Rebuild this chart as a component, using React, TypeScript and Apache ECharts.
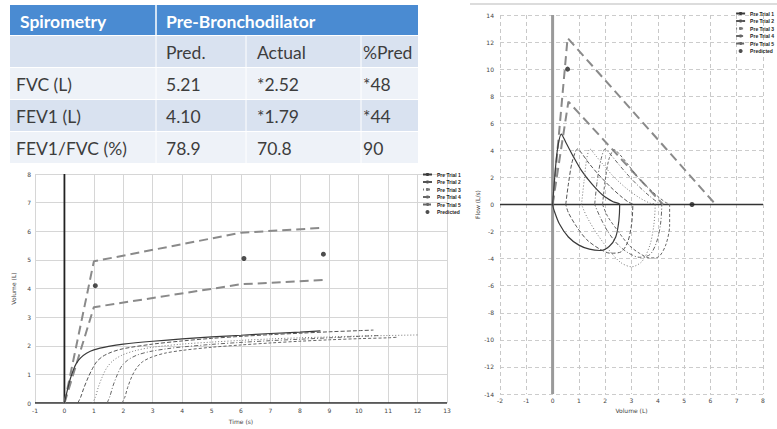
import React, { useEffect, useRef } from "react";
import * as echarts from "echarts";

// ---------- Table data ----------
const tableHeader = ["Spirometry", "Pre-Bronchodilator"];
const subHeader = ["", "Pred.", "Actual", "%Pred"];
const rowLabels = ["FVC (L)", "FEV1 (L)", "FEV1/FVC (%)"];
const predValues = ["5.21", "4.10", "78.9"];
const actualValues = ["*2.52", "*1.79", "70.8"];
const pctPredValues = ["*48", "*44", "90"];

const trialNames = ["Pre Trial 1", "Pre Trial 2", "Pre Trial 3", "Pre Trial 4", "Pre Trial 5"];
const predictedName = "Predicted";

// ---------- Volume-time data (time s, volume L) ----------
const vtTrial1 = [[0,0],[0.1,0.45],[0.2,0.85],[0.3,1.15],[0.4,1.38],[0.55,1.58],[0.75,1.74],[1,1.86],[1.5,1.98],[2,2.06],[3,2.16],[4,2.24],[5,2.31],[6,2.37],[7,2.43],[8,2.48],[8.7,2.52]];
const vtTrial2 = [[0.45,0],[0.55,0.2],[0.65,0.5],[0.8,0.88],[0.95,1.2],[1.1,1.45],[1.3,1.63],[1.6,1.78],[2,1.9],[3,2.06],[4,2.17],[5,2.26],[6,2.33],[7,2.39],[8,2.44],[9,2.49],[10,2.53],[10.5,2.55]];
const vtTrial3 = [[0.95,0],[1.05,0.2],[1.15,0.55],[1.3,0.95],[1.45,1.25],[1.65,1.48],[1.95,1.67],[2.4,1.83],[3,1.95],[4,2.06],[5,2.13],[6,2.19],[7,2.24],[8,2.28],[9,2.31],[10,2.34],[11,2.36],[12,2.38]];
const vtTrial4 = [[1.45,0],[1.55,0.25],[1.65,0.6],[1.8,1.0],[1.95,1.3],[2.15,1.5],[2.45,1.67],[2.9,1.8],[3.5,1.9],[4,1.96],[5,2.05],[6,2.12],[7,2.18],[8,2.23],[9,2.28],[10,2.33],[10.7,2.36]];
const vtTrial5 = [[1.95,0],[2.05,0.2],[2.15,0.55],[2.3,0.95],[2.45,1.22],[2.65,1.44],[2.95,1.6],[3.4,1.74],[4,1.84],[5,1.95],[6,2.03],[7,2.1],[8,2.16],[9,2.21],[10,2.25],[11,2.28],[11.3,2.3]];
const vtPredUpper = [[0,0],[1,4.95],[6,5.95],[8.8,6.12]];
const vtPredLower = [[0,0],[1,3.35],[6,4.15],[8.8,4.3]];
const vtPredPoints = [[1.05,4.1],[6.1,5.05],[8.8,5.2]];
const vtTimeTicks = { min: -1, max: 13, interval: 1 };
const vtVolumeTicks = { min: 0, max: 8, interval: 1 };

// ---------- Flow-volume data (volume L, flow L/s) ----------
const fvTrial1 = [[0,0],[0.08,2.0],[0.18,4.0],[0.33,5.2],[0.5,4.6],[0.8,3.5],[1.1,2.5],[1.5,1.5],[1.9,0.7],[2.3,0.2],[2.55,0],[2.52,-1.2],[2.4,-2.4],[2.15,-3.1],[1.8,-3.4],[1.4,-3.3],[1.0,-3.0],[0.6,-2.4],[0.25,-1.4],[0.05,-0.4],[0,0]];
const fvTrial2 = [[0.5,0],[0.6,1.5],[0.75,3.2],[0.95,4.1],[1.1,3.8],[1.4,3.0],[1.8,2.1],[2.2,1.3],[2.6,0.6],[2.9,0.15],[3.05,0],[3.0,-1.5],[2.85,-2.8],[2.6,-3.5],[2.2,-3.6],[1.8,-3.3],[1.3,-2.6],[0.9,-1.6],[0.6,-0.6],[0.5,0]];
const fvTrial3 = [[1.1,0],[1.2,1.8],[1.3,3.4],[1.42,4.1],[1.6,3.7],[1.9,3.0],[2.3,2.1],[2.8,1.2],[3.3,0.5],[3.7,0.1],[3.9,0],[3.85,-1.5],[3.7,-3.0],[3.4,-4.2],[3.0,-4.6],[2.6,-4.3],[2.2,-3.5],[1.7,-2.2],[1.3,-0.9],[1.1,0]];
const fvTrial4 = [[1.6,0],[1.7,1.8],[1.85,3.4],[2.0,4.1],[2.2,3.7],[2.5,3.0],[2.9,2.1],[3.3,1.3],[3.7,0.6],[4.0,0.15],[4.15,0],[4.1,-1.5],[3.95,-2.8],[3.7,-3.7],[3.3,-3.9],[2.9,-3.6],[2.5,-3.0],[2.1,-2.0],[1.8,-0.9],[1.6,0]];
const fvTrial5 = [[1.9,0],[2.0,1.8],[2.15,3.4],[2.35,4.05],[2.55,3.7],[2.85,3.0],[3.2,2.1],[3.6,1.3],[4.0,0.6],[4.3,0.15],[4.45,0],[4.45,-1.5],[4.3,-3.0],[4.0,-3.9],[3.7,-3.95],[3.3,-3.6],[2.9,-3.0],[2.5,-2.0],[2.1,-0.9],[1.9,0]];
const fvPredUpper = [[0,0],[0.57,12.3],[6.2,0]];
const fvPredLower = [[0,0],[0.6,7.6],[4.2,0]];
const fvPredPoints = [[0.57,10.0],[5.3,0]];
const fvVolumeTicks = { min: -2, max: 8, interval: 1 };
const fvFlowTicks = { min: -14, max: 14, interval: 2 };

const trialStyles = [
  { color: "#3a3a3a", type: "solid" as any, width: 1.2 },
  { color: "#555", type: [4, 2] as any, width: 1 },
  { color: "#777", type: [1, 2] as any, width: 1 },
  { color: "#666", type: [4, 2, 1, 2] as any, width: 1 },
  { color: "#666", type: [3, 2] as any, width: 1 },
];

function buildTable(): any[] {
  const els: any[] = [];
  const x0 = 10, x1 = 418;
  const colX = [16, 166, 257, 363];
  const font = "Lato";
  els.push({ type: "rect", shape: { x: x0, y: 5, width: x1 - x0, height: 30 }, style: { fill: "#4a8bd2" } });
  els.push({ type: "line", shape: { x1: 156, y1: 5, x2: 156, y2: 35 }, style: { stroke: "#ffffff", lineWidth: 1.5 } });
  const rowTops = [36, 68, 100, 132];
  const rowFills = ["#d9e2f0", "#eef2f8", "#d9e2f0", "#eef2f8"];
  rowTops.forEach((t, i) => {
    els.push({ type: "rect", shape: { x: x0, y: t, width: x1 - x0, height: 31 }, style: { fill: rowFills[i] } });
  });
  [156, 246, 361].forEach((cx) => {
    els.push({ type: "line", shape: { x1: cx, y1: 36, x2: cx, y2: 163 }, style: { stroke: "#ffffff", lineWidth: 1 } });
  });
  const txt = (text: string, x: number, y: number, bold: boolean, fill: string) => ({
    type: "text", x, y,
    style: { text, fill, fontFamily: font, fontSize: 17.5, fontWeight: bold ? "bold" : "normal", verticalAlign: "middle", align: "left" },
  });
  els.push(txt(tableHeader[0], 20, 21, true, "#ffffff"));
  els.push(txt(tableHeader[1], colX[1], 21, true, "#ffffff"));
  subHeader.forEach((s, i) => { if (s) els.push(txt(s, colX[i], 52, false, "#3d3d3d")); });
  rowLabels.forEach((lab, r) => {
    const cy = 84 + r * 32;
    els.push(txt(lab, colX[0], cy, false, "#3d3d3d"));
    els.push(txt(predValues[r], colX[1], cy, false, "#3d3d3d"));
    els.push(txt(actualValues[r], colX[2], cy, false, "#3d3d3d"));
    els.push(txt(pctPredValues[r], colX[3], cy, false, "#3d3d3d"));
  });
  els.push({ type: "line", shape: { x1: 470, y1: 4, x2: 777, y2: 4 }, style: { stroke: "#dcdcdc", lineWidth: 2 } });
  return els;
}

export default function App() {
  const ref = useRef<HTMLDivElement>(null);
  useEffect(() => {
    if (!ref.current) return;
    const chart = echarts.init(ref.current, null, { renderer: "svg" });
    const axisLabel = { fontSize: 6, color: "#444", fontFamily: "DejaVu Sans" };
    const nameStyle = { fontSize: 6, color: "#444", fontFamily: "DejaVu Sans" };

    const vtTrials = [vtTrial1, vtTrial2, vtTrial3, vtTrial4, vtTrial5];
    const fvTrials = [fvTrial1, fvTrial2, fvTrial3, fvTrial4, fvTrial5];

    const series: any[] = [];
    series.push({ type: "line", xAxisIndex: 0, yAxisIndex: 0, data: [[0, 0], [0, 8]], symbol: "none", lineStyle: { color: "#222", width: 1.8 }, silent: true });
    series.push({ type: "line", xAxisIndex: 0, yAxisIndex: 0, data: [[-1, 0], [13, 0]], symbol: "none", lineStyle: { color: "#222", width: 1.5 }, silent: true });
    series.push({ type: "line", xAxisIndex: 0, yAxisIndex: 0, data: vtPredUpper, symbol: "none", lineStyle: { color: "#8a8a8a", width: 2, type: [9, 5] }, silent: true });
    series.push({ type: "line", xAxisIndex: 0, yAxisIndex: 0, data: vtPredLower, symbol: "none", lineStyle: { color: "#8a8a8a", width: 2, type: [9, 5] }, silent: true });
    vtTrials.forEach((d, i) => {
      series.push({ name: trialNames[i], type: "line", xAxisIndex: 0, yAxisIndex: 0, data: d, smooth: 0.3, symbol: "none", showSymbol: false, lineStyle: trialStyles[i], itemStyle: { color: trialStyles[i].color }, silent: true });
    });
    series.push({ name: predictedName, type: "scatter", xAxisIndex: 0, yAxisIndex: 0, data: vtPredPoints, symbol: "circle", symbolSize: 5, itemStyle: { color: "#222" }, silent: true, z: 5 });

    series.push({ type: "line", xAxisIndex: 1, yAxisIndex: 1, data: [[0, -14], [0, 14]], symbol: "none", lineStyle: { color: "#9a9a9a", width: 3 }, silent: true });
    series.push({ type: "line", xAxisIndex: 1, yAxisIndex: 1, data: [[-2, 0], [8, 0]], symbol: "none", lineStyle: { color: "#333", width: 1.5 }, silent: true });
    series.push({ type: "line", xAxisIndex: 1, yAxisIndex: 1, data: fvPredUpper, symbol: "none", lineStyle: { color: "#8a8a8a", width: 2, type: [9, 5] }, silent: true });
    series.push({ type: "line", xAxisIndex: 1, yAxisIndex: 1, data: fvPredLower, symbol: "none", lineStyle: { color: "#8a8a8a", width: 2, type: [9, 5] }, silent: true });
    fvTrials.forEach((d, i) => {
      series.push({ name: trialNames[i], type: "line", xAxisIndex: 1, yAxisIndex: 1, data: d, smooth: 0.3, symbol: "none", showSymbol: false, lineStyle: trialStyles[i], itemStyle: { color: trialStyles[i].color }, silent: true });
    });
    series.push({ name: predictedName, type: "scatter", xAxisIndex: 1, yAxisIndex: 1, data: fvPredPoints, symbol: "circle", symbolSize: 5, itemStyle: { color: "#222" }, silent: true, z: 5 });

    const legendNames = [...trialNames, predictedName];
    const legendCommon = {
      orient: "vertical", itemWidth: 9, itemHeight: 4, itemGap: 2.5, selectedMode: false, padding: 0,
      textStyle: { fontSize: 5, fontWeight: "bold", color: "#222", fontFamily: "Liberation Sans" },
      data: legendNames,
    };

    chart.setOption({
      animation: false,
      backgroundColor: "#ffffff",
      graphic: buildTable(),
      legend: [
        { ...legendCommon, left: 422, top: 172 },
        { ...legendCommon, right: 3, top: 11 },
      ],
      grid: [
        { left: 35, top: 174, width: 412, height: 238 },
        { left: 500, top: 15, width: 263, height: 379 },
      ],
      xAxis: [
        { type: "value", gridIndex: 0, ...vtTimeTicks, name: "Time (s)", nameLocation: "middle", nameGap: 11, nameTextStyle: nameStyle,
          axisLine: { show: false }, axisTick: { show: false }, axisLabel: { ...axisLabel, margin: 4 },
          splitLine: { show: true, lineStyle: { color: "#d6d6d6", width: 1 } } },
        { type: "value", gridIndex: 1, ...fvVolumeTicks, name: "Volume (L)", nameLocation: "middle", nameGap: 11, nameTextStyle: nameStyle,
          axisLine: { show: false }, axisTick: { show: false }, axisLabel: { ...axisLabel, margin: 3 },
          splitLine: { show: true, lineStyle: { color: "#c8c8c8", width: 1, type: [4, 3] } } },
      ],
      yAxis: [
        { type: "value", gridIndex: 0, ...vtVolumeTicks, name: "Volume (L)", nameLocation: "middle", nameGap: 14, nameTextStyle: nameStyle,
          axisLine: { show: false }, axisTick: { show: false }, axisLabel: { ...axisLabel, margin: 4 },
          splitLine: { show: true, lineStyle: { color: "#d6d6d6", width: 1 } } },
        { type: "value", gridIndex: 1, ...fvFlowTicks, name: "Flow (L/s)", nameLocation: "middle", nameGap: 20, nameTextStyle: nameStyle,
          axisLine: { show: false }, axisTick: { show: false }, axisLabel: { ...axisLabel, margin: 6 },
          splitLine: { show: true, lineStyle: { color: "#cccccc", width: 1, type: [4, 3] } } },
      ],
      series,
    });
    return () => chart.dispose();
  }, []);
  return <div ref={ref} style={{ position: "absolute", left: 0, top: 0, width: 777, height: 429, background: "#fff" }} />;
}
